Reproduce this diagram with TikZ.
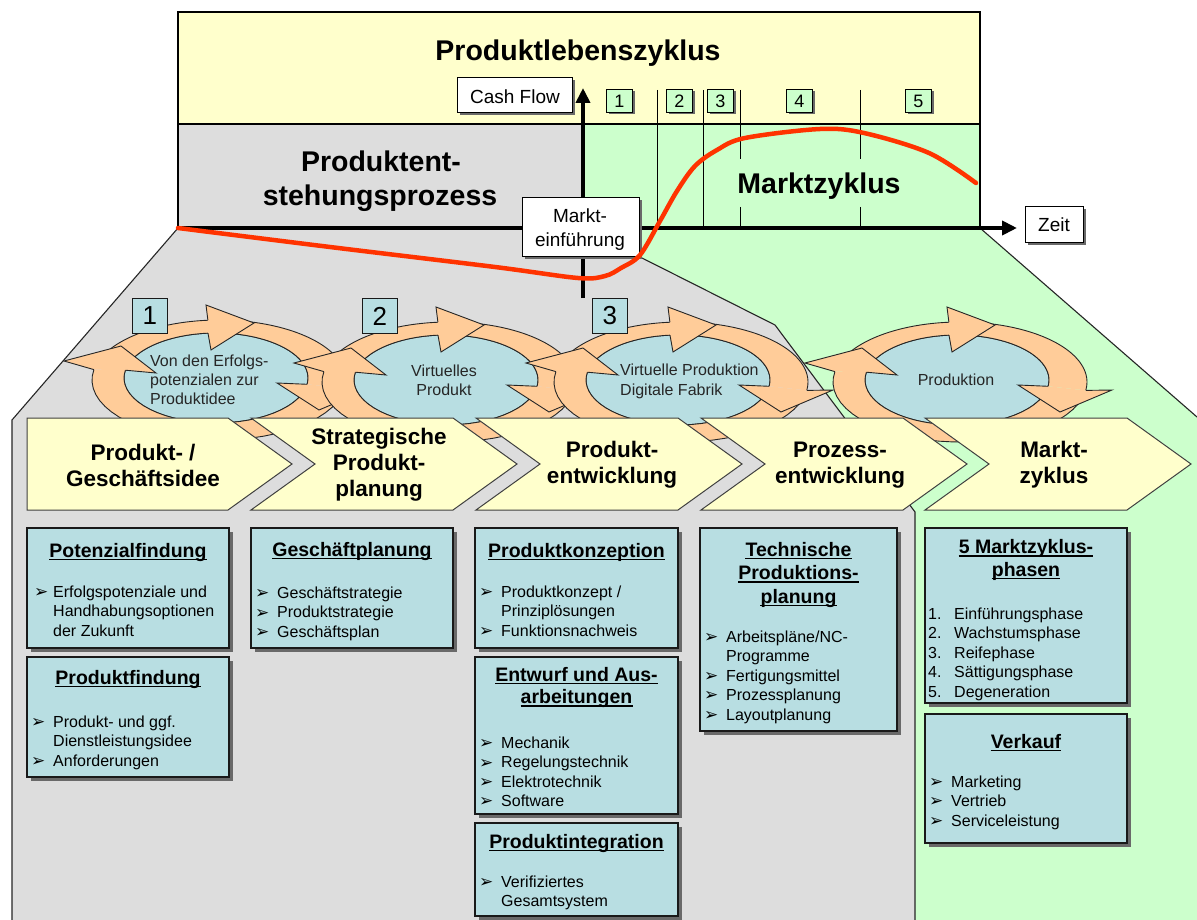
\documentclass[tikz,border=0pt]{standalone}
\usepackage{fontspec}
\setmainfont{Liberation Sans}
\newfontfamily\dvs{DejaVu Sans}
\usetikzlibrary{arrows.meta}
\definecolor{ylw}{RGB}{255,255,204}
\definecolor{gry}{RGB}{221,221,221}
\definecolor{grn}{RGB}{204,255,204}
\definecolor{lblue}{RGB}{184,222,226}
\definecolor{orng}{RGB}{255,204,153}
\definecolor{redc}{RGB}{255,51,0}
\definecolor{shd}{RGB}{105,105,105}

\newcommand\ringseg[2]{%
  \fill[orng] plot[domain=#1:#2, samples=30] ({3+127*cos(\x)},{2-60*sin(\x)}) -- plot[domain=#2:#1, samples=30] ({92*cos(\x)},{-45*sin(\x)}) -- cycle;
  \draw[ol] plot[domain=#1:#2, samples=30] ({3+127*cos(\x)},{2-60*sin(\x)});
  \draw[ol] plot[domain=#1:#2, samples=30] ({92*cos(\x)},{-45*sin(\x)});}
\newcommand\arrowhd[5]{%
  \fill[orng] #1 -- #2 -- #3 -- #4 -- #5 -- cycle;
  \draw[ol, line join=miter] #1 -- #2 -- #3 -- #4 -- #5;}
\newcommand\cyclegfx[2]{%
  \begin{scope}[shift={(#1,#2)}]
    \fill[lblue] (0,0) ellipse [x radius=92, y radius=45];
    \draw[ol] (0,0) ellipse [x radius=92, y radius=45];
    \ringseg{345}{170}
    \ringseg{155}{95}
    \ringseg{80}{-8}
    \arrowhd{(-122.1,-8.4)}{(-152,-17)}{(-95,-32)}{(-60,-5)}{(-90.6,-7.8)}
    \arrowhd{(-8.1,-57.8)}{(-10,-73)}{(38,-55)}{(-5,-28)}{(-8,-44.8)}
    \arrowhd{(128.8,10.4)}{(155,10)}{(103,32)}{(61,5)}{(91.1,6.3)}
  \end{scope}}
\newcommand\bbox[5]{%
  \fill[shd] ({#2+4},{#3+4}) rectangle ({#4+4},{#5+4});
  \draw[bluebox] (#2,#3) rectangle (#4,#5);
  \coordinate (#1) at (#2,#3);}
\newcommand\ttl[4]{%
  \node[ttlf, anchor=base] (#1) at (#2,#3) {#4};
  \draw[line width=1.3pt] ([yshift=-2.6pt]#1.base west) -- ([yshift=-2.6pt]#1.base east);}
\newcommand\itm[4]{\node[btxt, anchor=base west] (#1) at ({#2+26},#3) {#4};}
\newcommand\arw[3]{\node[arwf, anchor=base west] (#1) at ({#2+4},{#3+0.5}) {➢};}
\newcommand\chev[1]{\draw[chevs] (#1,418) -- ({#1+202},418) -- ({#1+266},464) -- ({#1+202},510) -- (#1,510) -- ({#1+64},464) -- cycle;}

\begin{document}
\begin{tikzpicture}[x=1pt,y=-1pt,
  bluebox/.style={draw=black!90, line width=1.1pt, fill=lblue},
  wbox/.style={draw=black, line width=1pt, fill=white, inner sep=0},
  phbox/.style={draw=black, line width=0.9pt, fill=grn, inner sep=0, minimum width=26, minimum height=23, font=\fontsize{18}{20}\selectfont},
  nbox/.style={draw=black!90, line width=0.9pt, fill=lblue, inner sep=0, minimum width=35, minimum height=35, font=\fontsize{26}{28}\selectfont},
  chevs/.style={draw=black!75, line width=1pt, fill=ylw, line join=miter},
  chevf/.style={align=center, font=\fontsize{22.5}{26}\selectfont\bfseries, inner sep=0},
  bigf/.style={font=\fontsize{28.5}{32}\selectfont\bfseries, inner sep=0},
  mf/.style={font=\fontsize{19}{22}\selectfont, inner sep=0},
  cyf/.style={font=\fontsize{16}{19}\selectfont, inner sep=0, text=black!85},
  ttlf/.style={font=\fontsize{19.5}{23}\selectfont\bfseries, inner sep=0},
  btxt/.style={font=\fontsize{16}{19}\selectfont, inner sep=0},
  arwf/.style={font=\dvs\fontsize{17}{18}\selectfont, inner sep=0},
  edge/.style={draw=black!85, line width=1.1pt},
  frame/.style={draw=black, line width=1.2pt},
  thinl/.style={draw=black, line width=0.9pt},
  axis/.style={line width=4.5pt, -{Triangle[length=15pt,width=14pt]}},
  ol/.style={draw=black!85, line width=0.9pt}]
\useasboundingbox (0,0) rectangle (1197,920);
\fill[white] (0,0) rectangle (1197,920);

% background regions
\fill[grn] (583,124) -- (980,124) -- (980,228) -- (1197,417) -- (1197,920) -- (915,920) -- (915,512) -- (775,325) -- (640,257) -- (640,228) -- (583,228) -- cycle;
\fill[gry] (178,124) -- (583,124) -- (583,228) -- (640,228) -- (640,257) -- (775,325) -- (915,512) -- (915,920) -- (12,920) -- (12,420) -- (178,228) -- cycle;
\fill[ylw] (178,12) rectangle (980,124);
\draw[edge] (178,228) -- (12,420) -- (12,921);
\draw[edge] (640,257) -- (775,325) -- (915,512) -- (915,921);
\draw[edge] (980,228) -- (1197,417);
\draw[frame] (178,12) rectangle (980,228);
\draw[frame] (178,124) -- (980,124);

% phase separators
\draw[thinl] (657,90) -- (657,228);
\draw[thinl] (703,90) -- (703,228);
\draw[thinl] (740,90) -- (740,159) (740,207) -- (740,228);
\draw[thinl] (860,90) -- (860,159) (860,207) -- (860,228);

% phase boxes
\foreach \n/\xx in {1/606,2/666,3/707,4/786,5/905} {
  \fill[shd] ({\xx+2.5},91.5) rectangle ({\xx+28.5},114.5);
  \node[phbox, anchor=north west] (ph\n) at (\xx,89) {\n};
}

% axes
\draw[axis] (178,228) -- (1017,228);
\draw[axis] (583,298) -- (583,88);

% titles
\node[bigf, anchor=base] (plz) at (578,61) {Produktlebenszyklus};
\node[bigf, anchor=base] (pep1) at (381,172) {Produktent-};
\node[bigf, anchor=base] (pep2) at (380,205.5) {stehungsprozess};
\node[bigf, anchor=base] (mz) at (819,194) {Marktzyklus};

% label boxes
\fill[shd] (460,80) rectangle (575,115);
\node[wbox, anchor=north west, minimum width=115, minimum height=35] (cf) at (457,77) {};
\node[mf, anchor=base] (cft) at (515,103.5) {Cash Flow};

\fill[shd] (525,200) rectangle (642,259);
\node[wbox, anchor=north west, minimum width=117, minimum height=59] (mk) at (522,197) {};
\node[mf, anchor=base] (mkt1) at (580,222.7) {Markt-};
\node[mf, anchor=base] (mkt2) at (580,246.7) {einführung};

\fill[shd] (1028,209) rectangle (1086,245);
\node[wbox, anchor=north west, minimum width=58, minimum height=36] (zt) at (1025,206) {};
\node[mf, anchor=base] (ztt) at (1054,231.7) {Zeit};

% cash flow curve
\draw[redc, line width=4.5pt, line cap=round] plot[smooth, tension=0.55] coordinates {(178,228) (330,247) (495,267) (578,278) (605,276) (621,268) (640,255) (660,221) (677,191) (695,166) (717,150) (745,138) (820,129) (864,133) (929,153) (976,183)};

% cycles
\cyclegfx{216}{378}
\cyclegfx{446}{380}
\cyclegfx{678}{380}
\cyclegfx{957}{380}

\node[cyf, anchor=base west] (c1a) at (150,366) {Von den Erfolgs-};
\node[cyf, anchor=base west] (c1b) at (150,385) {potenzialen zur};
\node[cyf, anchor=base west] (c1c) at (150,404) {Produktidee};
\node[cyf, anchor=base] (c2a) at (444,376) {Virtuelles};
\node[cyf, anchor=base] (c2b) at (444,395) {Produkt};
\node[cyf, anchor=base west] (c3a) at (620,375) {Virtuelle Produktion};
\node[cyf, anchor=base west] (c3b) at (620,395) {Digitale Fabrik};
\node[cyf, anchor=base] (c4a) at (956,385) {Produktion};

% numbered squares
\node[nbox, anchor=north west] (n1) at (132,298) {1};
\node[nbox, anchor=north west] (n2) at (362,298) {2};
\node[nbox, anchor=north west] (n3) at (592,298) {3};

% chevrons
\draw[chevs] (27,418) -- (228,418) -- (292,464) -- (228,510) -- (27,510) -- cycle;
\chev{251}
\chev{476}
\chev{701}
\chev{925}
\node[chevf] (ch1) at (143,465) {Produkt- /\\Geschäftsidee};
\node[chevf] (ch2) at (379,465) {Strategische\\Produkt-\\planung};
\node[chevf] (ch3) at (612,465) {Produkt-\\entwicklung};
\node[chevf] (ch4) at (840,465) {Prozess-\\entwicklung};
\node[chevf] (ch5) at (1054,465) {Markt-\\zyklus};

% column A
\bbox{A1}{27}{528}{229}{648}
\ttl{A1t}{128}{557}{Potenzialfindung}
\arw{A1a1}{30}{597}\itm{A1i1}{27}{597}{Erfolgspotenziale und}
\itm{A1i2}{27}{616.5}{Handhabungsoptionen}
\itm{A1i3}{27}{636}{der Zukunft}

\bbox{A2}{27}{657}{229}{777}
\ttl{A2t}{128}{684}{Produktfindung}
\arw{A2a1}{27}{727}\itm{A2i1}{27}{727}{Produkt- und ggf.}
\itm{A2i2}{27}{746.5}{Dienstleistungsidee}
\arw{A2a3}{27}{766}\itm{A2i3}{27}{766}{Anforderungen}

% column B
\bbox{B1}{251}{528}{453}{648}
\ttl{B1t}{352}{556}{Geschäftplanung}
\arw{B1a1}{251}{598}\itm{B1i1}{251}{598}{Geschäftstrategie}
\arw{B1a2}{251}{617.5}\itm{B1i2}{251}{617.5}{Produktstrategie}
\arw{B1a3}{251}{637}\itm{B1i3}{251}{637}{Geschäftsplan}

% column C
\bbox{C1}{475}{528}{678}{648}
\ttl{C1t}{576.5}{557}{Produktkonzeption}
\arw{C1a1}{475}{597}\itm{C1i1}{475}{597}{Produktkonzept /}
\itm{C1i2}{475}{616.5}{Prinziplösungen}
\arw{C1a3}{475}{636}\itm{C1i3}{475}{636}{Funktionsnachweis}

\bbox{C2}{475}{657}{678}{814}
\ttl{C2t1}{576.5}{681}{Entwurf und Aus-}
\ttl{C2t2}{576.5}{703.5}{arbeitungen}
\arw{C2a1}{475}{748}\itm{C2i1}{475}{748}{Mechanik}
\arw{C2a2}{475}{767.5}\itm{C2i2}{475}{767.5}{Regelungstechnik}
\arw{C2a3}{475}{787}\itm{C2i3}{475}{787}{Elektrotechnik}
\arw{C2a4}{475}{806}\itm{C2i4}{475}{806}{Software}

\bbox{C3}{475}{823}{678}{916}
\ttl{C3t}{576.5}{848}{Produktintegration}
\arw{C3a1}{475}{887}\itm{C3i1}{475}{887}{Verifiziertes}
\itm{C3i2}{475}{906.5}{Gesamtsystem}

% column D
\bbox{D1}{700}{528}{897}{731}
\ttl{D1t1}{798.5}{556}{Technische}
\ttl{D1t2}{798.5}{579.5}{Produktions-}
\ttl{D1t3}{798.5}{603}{planung}
\arw{D1a1}{700}{642}\itm{D1i1}{700}{642}{Arbeitspläne/NC-}
\itm{D1i2}{700}{661}{Programme}
\arw{D1a3}{700}{681}\itm{D1i3}{700}{681}{Fertigungsmittel}
\arw{D1a4}{700}{700}\itm{D1i4}{700}{700}{Prozessplanung}
\arw{D1a5}{700}{720}\itm{D1i5}{700}{720}{Layoutplanung}

% column E
\bbox{E1}{925}{528}{1127}{703}
\ttl{E1t1}{1026}{553.5}{5 Marktzyklus-}
\ttl{E1t2}{1026}{576}{phasen}
\foreach \k/\yy/\tx in {1/619/Einführungsphase,2/638.5/Wachstumsphase,3/658/Reifephase,4/677/Sättigungsphase,5/697/Degeneration} {
  \node[btxt, anchor=base west] (E1n\k) at (928,\yy) {\k.};
  \node[btxt, anchor=base west] (E1i\k) at (954,\yy) {\tx};
}

\bbox{E2}{925}{714}{1127}{843}
\ttl{E2t}{1026}{748}{Verkauf}
\arw{E2a1}{925}{787}\itm{E2i1}{925}{787}{Marketing}
\arw{E2a2}{925}{806}\itm{E2i2}{925}{806}{Vertrieb}
\arw{E2a3}{925}{826}\itm{E2i3}{925}{826}{Serviceleistung}
\end{tikzpicture}
\end{document}
